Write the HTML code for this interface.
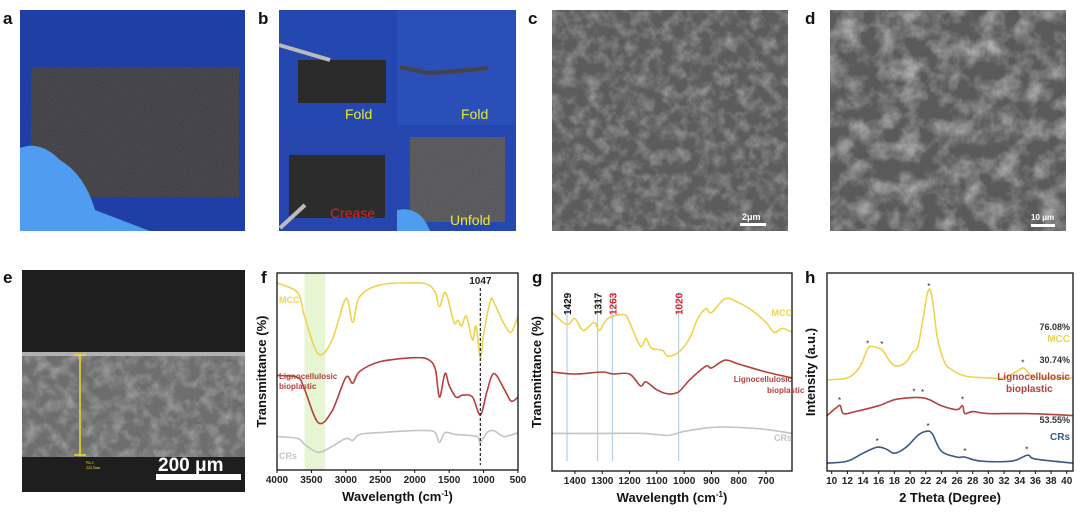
<!DOCTYPE html>
<html><head><meta charset="utf-8">
<style>
html,body{margin:0;padding:0;background:#fff;width:1080px;height:513px;overflow:hidden;font-family:"Liberation Sans",Arial,sans-serif}
svg{display:block}
</style></head>
<body>
<svg id="fig" width="1080" height="513" viewBox="0 0 1080 513" xmlns="http://www.w3.org/2000/svg">
<defs>
<filter id="noise" x="0" y="0" width="100%" height="100%">
<feTurbulence type="fractalNoise" baseFrequency="0.9" numOctaves="2" seed="3"/>
<feColorMatrix type="matrix" values="0 0 0 0 1  0 0 0 0 1  0 0 0 0 1  0 0 0 0.15 0"/>
<feComposite in2="SourceGraphic" operator="in"/>
</filter>
<filter id="sem" x="0" y="0" width="100%" height="100%">
<feTurbulence type="fractalNoise" baseFrequency="0.08" numOctaves="4" seed="7"/>
<feColorMatrix type="matrix" values="0 0 0 0 0.7  0 0 0 0 0.7  0 0 0 0 0.7  0.9 0 0 0 -0.35"/>
<feComposite in2="SourceGraphic" operator="in"/>
</filter>
<filter id="sem2" x="0" y="0" width="100%" height="100%">
<feTurbulence type="fractalNoise" baseFrequency="0.05" numOctaves="5" seed="11"/>
<feColorMatrix type="matrix" values="0 0 0 0 0.75  0 0 0 0 0.75  0 0 0 0 0.75  1.2 0 0 0 -0.45"/>
<feComposite in2="SourceGraphic" operator="in"/>
</filter>
</defs>
<g font-weight="bold" font-size="17" fill="#111">
<text x="3" y="24">a</text>
<text x="258" y="24">b</text>
<text x="528" y="24">c</text>
<text x="805" y="24">d</text>
<text x="3" y="283">e</text>
<text x="261" y="283">f</text>
<text x="532" y="283">g</text>
<text x="805" y="283">h</text>
</g>
<!-- panel a -->
<g>
<rect x="20" y="10" width="225" height="221" fill="#1f3ea6"/>
<rect x="31" y="67" width="208" height="130" fill="#36363c"/>
<rect x="31" y="67" width="208" height="130" fill="#36363c" filter="url(#noise)"/>
<path d="M20 148 Q40 140 60 160 Q85 175 95 210 L150 231 L20 231 Z" fill="#4f9cf0"/>
</g>
<!-- panel b -->
<g>
<rect x="279" y="10" width="237" height="221" fill="#2447b0"/>
<rect x="397" y="10" width="119" height="115" fill="#2a4fb8"/>
<rect x="279" y="125" width="118" height="106" fill="#2646ad"/>
<rect x="298" y="60" width="88" height="43" fill="#2a2a2a"/>
<line x1="279" y1="45" x2="330" y2="60" stroke="#bbb" stroke-width="4"/>
<path d="M400 67 L428 73 Q450 72 488 68" stroke="#444" stroke-width="4" fill="none"/>
<rect x="289" y="155" width="96" height="63" fill="#2c2c2c"/>
<line x1="280" y1="228" x2="305" y2="205" stroke="#bbb" stroke-width="4"/>
<rect x="410" y="137" width="95" height="85" fill="#4e4e52"/>
<rect x="410" y="137" width="95" height="85" fill="#4e4e52" filter="url(#noise)"/>
<path d="M397 210 Q420 205 430 231 L397 231 Z" fill="#4f9cf0"/>
<text x="345" y="119" font-size="14" fill="#e8e83a">Fold</text>
<text x="461" y="119" font-size="14" fill="#e8e83a">Fold</text>
<text x="330" y="218" font-size="14" fill="#e02020">Crease</text>
<text x="450" y="225" font-size="14" fill="#e8e83a">Unfold</text>
</g>
<!-- panel c -->
<g>
<rect x="552" y="10" width="236" height="221" fill="#5c5c5c"/>
<rect x="552" y="10" width="236" height="221" fill="#5c5c5c" filter="url(#sem)"/>
<text x="742" y="220" font-size="9" font-weight="bold" fill="#fff">2μm</text>
<rect x="740" y="223" width="26" height="3" fill="#fff"/>
</g>
<!-- panel d -->
<g>
<rect x="830" y="10" width="236" height="221" fill="#5a5a5a"/>
<rect x="830" y="10" width="236" height="221" fill="#5a5a5a" filter="url(#sem2)"/>
<text x="1031" y="220" font-size="8" font-weight="bold" fill="#fff">10 μm</text>
<rect x="1031" y="224" width="24" height="3" fill="#fff"/>
</g>
<!-- panel e -->
<g>
<rect x="22" y="270" width="223" height="222" fill="#1e1e1e"/>
<rect x="22" y="353" width="223" height="104" fill="#6e6e6e"/>
<rect x="22" y="353" width="223" height="104" fill="#6e6e6e" filter="url(#sem)"/>
<rect x="22" y="352" width="223" height="4" fill="#b0b0b0"/>
<line x1="80" y1="355" x2="80" y2="455" stroke="#f0e020" stroke-width="1.5"/>
<line x1="74" y1="355" x2="86" y2="355" stroke="#f0e020" stroke-width="1.5"/>
<line x1="74" y1="455" x2="86" y2="455" stroke="#f0e020" stroke-width="1.5"/>
<text x="86" y="464" font-size="4" fill="#f0e020" font-family="Liberation Serif">No.1</text>
<text x="86" y="469" font-size="4" fill="#f0e020" font-family="Liberation Serif">222.5um</text>
<text x="158" y="471" font-size="19" font-weight="bold" fill="#fff">200 μm</text>
<rect x="156" y="474" width="85" height="6" fill="#fff"/>
</g>
<g id="charts"></g>
</svg>
<script>
// ---- FTIR full (panel f) ----
const fX = [4000,3700,3600,3400,3200,3000,2900,2800,2500,2000,1800,1700,1640,1550,1430,1370,1320,1250,1160,1110,1047,1000,900,850,700,600,500];
const fMCC = [95,90,78,59,66,87,75,88,94,95,94,90,83,90,75,76,73,78,66,73,57,69,86,85,74,70,78];
const fLignoX = [4000,3700,3600,3400,3200,3000,2900,2800,2500,2000,1800,1700,1640,1560,1500,1400,1300,1160,1047,950,850,700,600,500];
const fLigno = [48,47,41,24,30,47,44,50,55,57,56,51,37,49,43,37,38,37,28,40,49,41,35,37];
const fCRsX = [4000,3700,3600,3400,3200,3000,2900,2800,2500,2000,1800,1700,1640,1560,1400,1100,1047,950,850,700,500];
const fCRs = [17,16,13,9,12,16,15,18,19,20,20,19,14,19,18,17,14,19,20,17,19];
const fTicks = [4000,3500,3000,2500,2000,1500,1000,500];
// ---- FTIR zoom (panel g) ----
const gMCCX = [1484,1430,1400,1370,1330,1310,1280,1220,1200,1160,1140,1120,1080,1060,1020,980,950,920,900,850,800,750,700,670,640,605];
const gMCC = [80,74,77,71,75,71,77,79,75,63,67,62,61,58,60,67,77,82,80,87,85,81,75,70,72,70];
const gLignoX = [1484,1400,1300,1260,1200,1160,1140,1100,1060,1020,980,920,900,850,800,700,605];
const gLigno = [50,49,50,49,49,43,45,41,39,40,46,53,52,56,54,50,47];
const gCRsX = [1484,1300,1150,1060,1000,900,800,700,605];
const gCRs = [19,19,19,18,20,22,22,21,19];
const gPeaks = [1429,1317,1263,1020];
const gTicks = [1400,1300,1200,1100,1000,900,800,700];
// ---- XRD (panel h) ----
const hMCCX = [9.4,12,13.5,14.5,15,16,16.5,17.5,18.3,19.5,20.3,21,21.7,22.3,22.8,23.5,24.3,25,27,30,32,33.5,34.5,35.5,37,40.8];
const hMCC = [46,47,52,61,63,62,61,55,53,55,60,63,78,91,88,67,56,52,48,47,47,50,52,48,47,47];
const hLignoX = [9.4,10.6,11.1,11.5,13,16,18,20,21.5,22.5,24,26,26.7,27,28,30,35,40.8];
const hLigno = [28,32,33,29,30,33,36,37,37,36,33,31,33,29,30,29,29,28];
const hCRsX = [9.4,12,14,15.8,17,18,19.5,21,22,22.8,24,26,27,29,33,35,36,40.8];
const hCRs = [4,5,9,12,11,9,12,18,20,19,10,7,7,5,5,8,6,4];
const hMCCStars = [14.6,16.4,22.4,34.4];
const hLignoStars = [11,20.5,21.6,26.7];
const hCRsStars = [15.8,22.3,27,34.9];
const hTicks = [10,12,14,16,18,20,22,24,26,28,30,32,34,36,38,40];

const NS = 'http://www.w3.org/2000/svg';
const root = document.getElementById('charts');
function mk(tag, attrs, parent){const e=document.createElementNS(NS,tag);for(const k in attrs)e.setAttribute(k,attrs[k]);(parent||root).appendChild(e);return e;}
function lin(d0,d1,r0,r1){return v=>r0+(v-d0)/(d1-d0)*(r1-r0);}
function interp(xs,ys,x){for(let i=0;i<xs.length-1;i++){const a=xs[i],b=xs[i+1];if((x-a)*(x-b)<=0){return ys[i]+(ys[i+1]-ys[i])*(x-a)/(b-a);}}return ys[ys.length-1];}
function line(xs,ys,sx,sy,color,name,g){
  const P=xs.map((x,i)=>[sx(x),sy(ys[i])]);
  let d='M'+P[0][0].toFixed(1)+' '+P[0][1].toFixed(1);
  for(let i=0;i<P.length-1;i++){
    const p0=P[Math.max(0,i-1)],p1=P[i],p2=P[i+1],p3=P[Math.min(P.length-1,i+2)];
    const c1=[p1[0]+(p2[0]-p0[0])/6,p1[1]+(p2[1]-p0[1])/6];
    const c2=[p2[0]-(p3[0]-p1[0])/6,p2[1]-(p3[1]-p1[1])/6];
    d+=`C${c1[0].toFixed(1)} ${c1[1].toFixed(1)} ${c2[0].toFixed(1)} ${c2[1].toFixed(1)} ${p2[0].toFixed(1)} ${p2[1].toFixed(1)}`;
  }
  const p=mk('path',{d:d,fill:'none',stroke:color,'stroke-width':1.6,'stroke-linejoin':'round'},g);
  
  
}
function frame(g,x0,y0,x1,y1,ticks,sx,fmt,xlabel,ylabel,yx){
  mk('rect',{x:x0,y:y0,width:x1-x0,height:y1-y0,fill:'none',stroke:'#111','stroke-width':1.3},g);
  ticks.forEach(t=>{
    mk('line',{x1:sx(t),x2:sx(t),y1:y1,y2:y1+3,stroke:'#111'},g);
    const tx=mk('text',{x:sx(t),y:y1+13,'font-size':10,'font-weight':'bold','text-anchor':'middle',fill:'#222'},g);
    tx.textContent=fmt(t);
    
    
  });
  const xl=mk('text',{x:(x0+x1)/2,y:y1+31,'font-size':13,'font-weight':'bold','text-anchor':'middle',fill:'#111'},g);
  xl.innerHTML=xlabel;
  
  
  const yl=mk('text',{x:0,y:0,'font-size':13,'font-weight':'bold','text-anchor':'middle',fill:'#111',transform:`translate(${yx},${(y0+y1)/2}) rotate(-90)`},g);
  yl.textContent=ylabel;
  
  
}
function label(g,x,y,txt,color,size,anchor,name){
  const t=mk('text',{x:x,y:y,'font-size':size,'font-weight':'bold',fill:color,'text-anchor':anchor||'start'},g);
  t.textContent=txt;
  
  
  return t;
}
const YEL='#edd450', RED='#b5403c', GRY='#c4c4c4', BLU='#3b5a85';
const WL='Wavelength (cm<tspan dy="-5" font-size="8">-1</tspan><tspan dy="5">)</tspan>';

// panel f
{
  const g=mk('g',{});
  
  
  const x0=277,x1=518,y0=273,y1=470;
  const sx=lin(4000,500,x0,x1), sy=lin(0,100,y1,y0);
  const band=mk('rect',{x:sx(3600),y:y0,width:sx(3300)-sx(3600),height:y1-y0,fill:'#e6f5d2'},g);
  
  
  line(fX,fMCC,sx,sy,YEL,'series-mcc',g);
  line(fLignoX,fLigno,sx,sy,RED,'series-lignocellulosic',g);
  line(fCRsX,fCRs,sx,sy,GRY,'series-crs',g);
  const dl=mk('line',{x1:sx(1047),x2:sx(1047),y1:y0+15,y2:y1-5,stroke:'#222','stroke-dasharray':'3,2','stroke-width':1.2},g);
  
  
  label(g,sx(1047),y0+11,'1047','#222',10,'middle','peak-1047-label');
  frame(g,x0,y0,x1,y1,fTicks,sx,t=>t,WL,'Transmittance (%)',266);
  label(g,x0+2,y0+30,'MCC',YEL,9,'start','legend-mcc');
  label(g,x0+2,y0+106,'Lignocellulosic',RED,8,'start','legend-ligno-1');
  label(g,x0+2,y0+116,'bioplastic',RED,8,'start','legend-ligno-2');
  label(g,x0+2,y0+186,'CRs',GRY,9,'start','legend-crs');
}
// panel g
{
  const g=mk('g',{});
  
  
  const x0=552,x1=792,y0=273,y1=471;
  const sx=lin(1484,605,x0,x1), sy=lin(0,100,y1,y0);
  gPeaks.forEach((p,i)=>{
    const l=mk('line',{x1:sx(p),x2:sx(p),y1:y0+19,y2:y1-10,stroke:'#a8c8e0','stroke-width':1},g);
    
    
    const t=mk('text',{x:0,y:0,'font-size':10,'font-weight':'bold',fill:i<2?'#111':'#e02020',transform:`translate(${sx(p)+4},${y0+42}) rotate(-90)`},g);
    t.textContent=p;
    
    
  });
  line(gMCCX,gMCC,sx,sy,YEL,'series-mcc',g);
  line(gLignoX,gLigno,sx,sy,RED,'series-lignocellulosic',g);
  line(gCRsX,gCRs,sx,sy,GRY,'series-crs',g);
  frame(g,x0,y0,x1,y1,gTicks,sx,t=>t,WL,'Transmittance (%)',541);
  label(g,x1,y0+43,'MCC',YEL,9,'end','legend-mcc');
  label(g,x1,y0+109,'Lignocellulosic',RED,8,'end','legend-ligno-1');
  label(g,x1-25,y0+120,'bioplastic',RED,8,'start','legend-ligno-2');
  label(g,x1,y0+168,'CRs',GRY,9,'end','legend-crs');
}
// panel h
{
  const g=mk('g',{});
  
  
  const x0=827,x1=1073,y0=273,y1=471;
  const sx=lin(9.4,40.8,x0,x1), sy=lin(0,100,y1,y0);
  line(hMCCX,hMCC,sx,sy,YEL,'series-mcc',g);
  line(hLignoX,hLigno,sx,sy,RED,'series-lignocellulosic',g);
  line(hCRsX,hCRs,sx,sy,BLU,'series-crs',g);
  [[hMCCStars,hMCCX,hMCC],[hLignoStars,hLignoX,hLigno],[hCRsStars,hCRsX,hCRs]].forEach(s=>{
    s[0].forEach(x=>{
      const t=mk('text',{x:sx(x),y:sy(interp(s[1],s[2],x))-3,'font-size':8,'text-anchor':'middle',fill:'#222'},g);
      t.textContent='*';
      
      
    });
  });
  frame(g,x0,y0,x1,y1,hTicks,sx,t=>t,'2 Theta (Degree)','Intensity (a.u.)',815);
  label(g,x1-3,y0+57,'76.08%','#333',9,'end','crystallinity-mcc');
  label(g,x1-3,y0+69,'MCC',YEL,10,'end','legend-mcc');
  label(g,x1-3,y0+90,'30.74%','#333',9,'end','crystallinity-ligno');
  label(g,x1-3,y0+107,'Lignocellulosic',RED,10,'end','legend-ligno-1');
  label(g,x1-67,y0+119,'bioplastic',RED,10,'start','legend-ligno-2');
  label(g,x1-3,y0+150,'53.55%','#333',9,'end','crystallinity-crs');
  label(g,x1-3,y0+167,'CRs',BLU,10,'end','legend-crs');
}
</script>
</body></html>
